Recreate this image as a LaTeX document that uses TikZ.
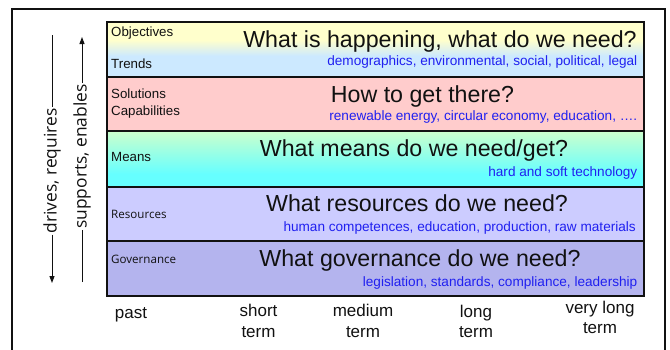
\documentclass[tikz,border=0pt]{standalone}
\usepackage{fontspec}
\setmainfont{Liberation Sans}
\newfontfamily\osans{Open Sans}
\usetikzlibrary{arrows.meta}
\definecolor{ylw}{HTML}{FFFFCC}
\definecolor{lblue}{HTML}{CCE9FF}
\definecolor{pnk}{HTML}{FFCCCC}
\definecolor{grn}{HTML}{CCFFCC}
\definecolor{cyn}{HTML}{66FFFF}
\definecolor{lav}{HTML}{CCCCFF}
\definecolor{lavd}{HTML}{B4B4EE}
\definecolor{subblue}{HTML}{2020F0}
\definecolor{ink}{HTML}{111111}
\begin{document}
\begin{tikzpicture}[x=1pt,y=-1pt,
  lbl/.style={anchor=base west, inner sep=0pt, font=\fontsize{13.3}{15}\selectfont, text=ink},
  olbl/.style={anchor=base west, inner sep=0pt, font=\osans\fontsize{11.6}{14}\selectfont, text=ink},
  ttl/.style={anchor=base, inner sep=0pt, font=\fontsize{23.2}{26}\selectfont, text=ink},
  subt/.style={anchor=base east, inner sep=0pt, font=\fontsize{13.6}{15}\selectfont, text=subblue},
  tlbl/.style={anchor=base, inner sep=0pt, font=\fontsize{17}{20}\selectfont, text=ink},
  side/.style={rotate=90, inner sep=1pt, font=\osans\fontsize{17.4}{21}\selectfont, text=ink},
  arr/.style={line width=1pt, draw=ink},
  boxline/.style={line width=1.6pt, draw=ink}
]
\useasboundingbox (0,0) rectangle (670,349);
% outer frame
\draw[line width=1.3pt, draw=ink] (12,352) -- (12,9) -- (665,9) -- (665,352);
% row backgrounds
\fill[ylw] (107,22) rectangle (644,40);
\shade[top color=ylw, bottom color=lblue] (107,40) rectangle (644,56);
\fill[lblue] (107,56) rectangle (644,77);
\fill[pnk] (107,77) rectangle (644,131);
\shade[top color=grn, bottom color=cyn] (107,131) rectangle (644,174);
\fill[cyn] (107,174) rectangle (644,187);
\fill[lav] (107,187) rectangle (644,241);
\fill[lavd] (107,241) rectangle (644,296);
% box and separators
\draw[boxline] (107,22) rectangle (644,296);
\foreach \yy in {77,131,187,241} \draw[boxline] (107,\yy) -- (644,\yy);
% left labels
\node[lbl] (obj) at (111,36) {Objectives};
\node[lbl] (trd) at (111,68) {Trends};
\node[lbl] (sol) at (111,98) {Solutions};
\node[lbl] (cap) at (111,115) {Capabilities};
\node[lbl] (mns) at (111,161) {Means};
\node[olbl] (res) at (111,218.5) {Resources};
\node[olbl] (gov) at (111,263) {Governance};
% titles
\node[ttl] (t1) at (440,47) {What is happening, what do we need?};
\node[ttl] (t2) at (422.5,102) {How to get there?};
\node[ttl] (t3) at (414,156.7) {What means do we need/get?};
\node[ttl] (t4) at (417,211.7) {What resources do we need?};
\node[ttl] (t5) at (420,266.7) {What governance do we need?};
% subtitles
\node[subt] (s1) at (637.5,65.7) {demographics, environmental, social, political, legal};
\node[subt] (s2) at (637.5,120.7) {renewable energy, circular economy, education, ….};
\node[subt] (s3) at (637.5,176) {hard and soft technology};
\node[subt] (s4) at (636,231.7) {human competences, education, production, raw materials};
\node[subt] (s5) at (637.5,286.7) {legislation, standards, compliance, leadership};
% time labels
\node[tlbl] (past) at (131,318) {past};
\node[tlbl] (sh1) at (258.5,316.7) {short};
\node[tlbl] (sh2) at (258.5,337) {term};
\node[tlbl] (md1) at (363,316.7) {medium};
\node[tlbl] (md2) at (363,337) {term};
\node[tlbl] (lg1) at (476,317) {long};
\node[tlbl] (lg2) at (476,337) {term};
\node[tlbl] (vl1) at (600,313.3) {very long};
\node[tlbl] (vl2) at (600,333.5) {term};
% side arrows
\node[side] (drv) at (52,171) {drives, requires};
\coordinate (dtop) at (52,35);
\coordinate (dbot) at (52,283);
\draw[arr] (dtop) -- (drv.east);
\draw[arr, -{Triangle[length=7pt,width=5pt]}] (drv.west) -- (dbot);
\node[side] (sup) at (82,156.5) {supports, enables};
\coordinate (stop) at (82,37);
\coordinate (sbot) at (82,282);
\draw[arr] (sbot) -- (sup.west);
\draw[arr, -{Triangle[length=7pt,width=5pt]}] (sup.east) -- (stop);
\end{tikzpicture}
\end{document}
